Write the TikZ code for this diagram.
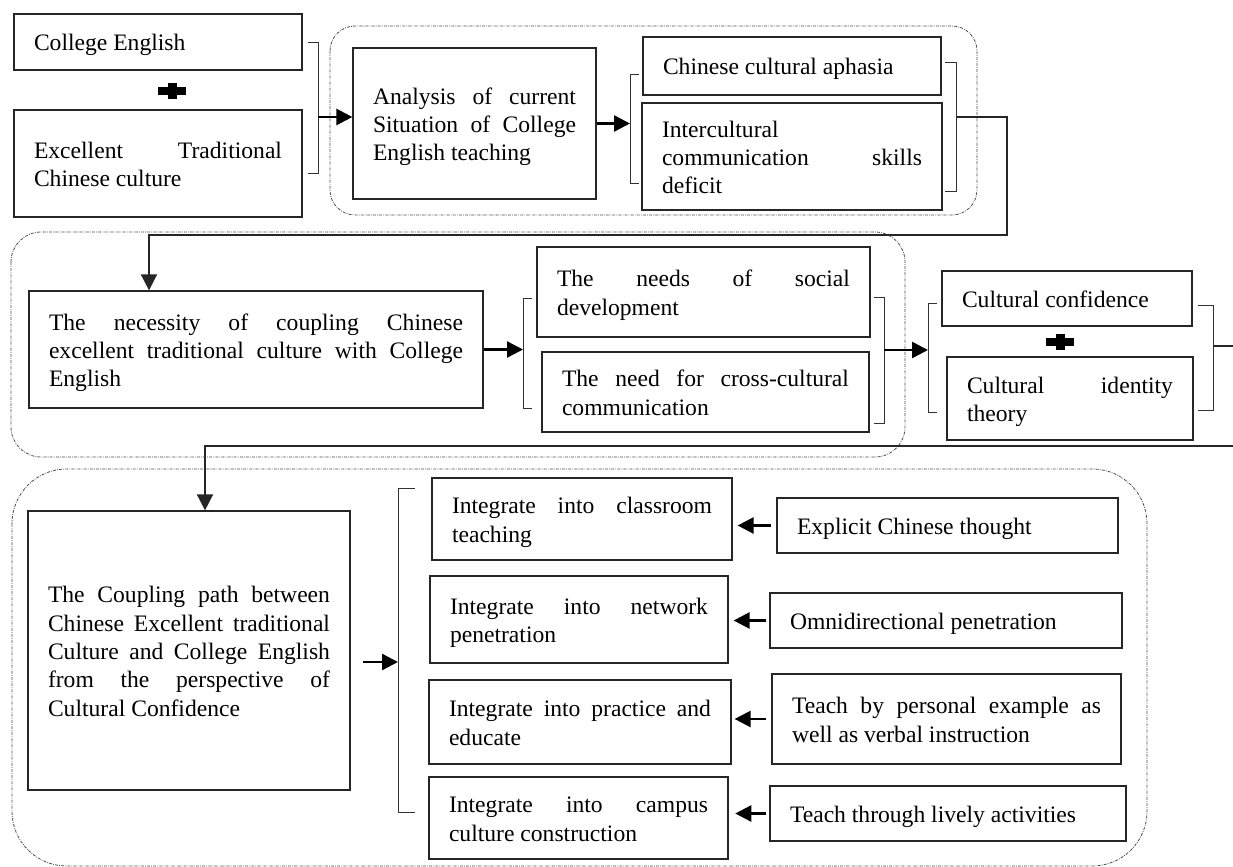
\documentclass[tikz,border=0pt]{standalone}
\usepackage{fontspec}
\setmainfont{Liberation Serif}
\usetikzlibrary{arrows.meta}
\hyphenpenalty=10000
\exhyphenpenalty=10000
\tolerance=9999
\newcommand\boxtext[2]{\parbox{#1}{\rule{0pt}{17.5pt}#2\rule[-4pt]{0pt}{0pt}}}
\begin{document}
\begin{tikzpicture}[x=0.75pt,y=-0.75pt,
  box/.style={draw=black!85, line width=0.9pt, inner sep=0pt, anchor=center,
    font=\fontsize{17.7pt}{21.2pt}\selectfont},
  grp/.style={draw=black!70, line width=0.6pt, dash pattern=on 2.2pt off 0.9pt on 0.6pt off 0.9pt},
  brk/.style={draw=black!80, line width=0.75pt},
  arr/.style={draw=black, line width=1.8pt, -{Triangle[length=12pt,width=12pt]}},
  conarr/.style={draw=black!85, line width=1.2pt, -{Triangle[length=12pt,width=12pt]}},
  plusbar/.style={fill=black, draw=none}
]
\useasboundingbox (0,0) rectangle (1233,867);

% dotted groups
\draw[grp, rounded corners=18.75pt] (330,26) rectangle (977,215);
\draw[grp, rounded corners=22.5pt] (11,232) rectangle (905,457);
\draw[grp, rounded corners=41pt] (12,469) rectangle (1147,866);

% top row
\node[box, minimum width=216pt, minimum height=42pt] (ce) at (158,42) {\boxtext{186pt}{College English}};
\node[box, minimum width=216pt, minimum height=80.25pt] (etc) at (158,163.5) {\boxtext{186pt}{Excellent Traditional\linebreak Chinese culture}};
\fill[plusbar] (158,87) rectangle (186,95);
\fill[plusbar] (167.5,83) rectangle (176.5,99);

\node[box, minimum width=182.25pt, minimum height=113.25pt] (ana) at (474.5,123.5) {\boxtext{152.25pt}{Analysis of current\linebreak Situation of College\linebreak English teaching}};
\node[box, minimum width=223.5pt, minimum height=43.5pt] (aph) at (792,66) {\boxtext{193.5pt}{Chinese cultural aphasia}};
\node[box, minimum width=225pt, minimum height=80.25pt] (ice) at (792,156.5) {\boxtext{195pt}{Intercultural\linebreak communication skills\linebreak deficit}};

% middle row
\node[box, minimum width=340.5pt, minimum height=87.75pt] (nec) at (256,349.5) {\boxtext{310.5pt}{The necessity of coupling Chinese\linebreak excellent traditional culture with College\linebreak English}};
\node[box, minimum width=249.75pt, minimum height=67.5pt] (nd1) at (703.5,292) {\boxtext{219.75pt}{The needs of social\linebreak development}};
\node[box, minimum width=245.25pt, minimum height=60pt] (nd2) at (705.5,392) {\boxtext{215.25pt}{The need for cross-cultural\linebreak communication}};
\node[box, minimum width=187.5pt, minimum height=41.25pt] (cc) at (1067,298.5) {\boxtext{157.5pt}{Cultural confidence}};
\node[box, minimum width=184.5pt, minimum height=62.25pt] (cit) at (1070,398.5) {\boxtext{154.5pt}{Cultural identity\linebreak theory}};
\fill[plusbar] (1046,338) rectangle (1074,346);
\fill[plusbar] (1055.5,334) rectangle (1064.5,350);

% bottom group
\node[box, minimum width=241.5pt, minimum height=209.25pt] (cp) at (189,650.5) {\boxtext{211.5pt}{The Coupling path between\linebreak Chinese Excellent traditional\linebreak Culture and College English\linebreak from the perspective of\linebreak Cultural Confidence}};
\node[box, minimum width=225pt, minimum height=61.5pt] (i1) at (582,519) {\boxtext{195pt}{Integrate into classroom\linebreak teaching}};
\node[box, minimum width=223.5pt, minimum height=65.25pt] (i2) at (579,619.5) {\boxtext{193.5pt}{Integrate into network\linebreak penetration}};
\node[box, minimum width=226.5pt, minimum height=63pt] (i3) at (580,722) {\boxtext{196.5pt}{Integrate into practice and\linebreak educate}};
\node[box, minimum width=224.25pt, minimum height=61.5pt] (i4) at (578.5,818) {\boxtext{194.25pt}{Integrate into campus\linebreak culture construction}};
\node[box, minimum width=255.75pt, minimum height=41.25pt] (e1) at (947.5,525.5) {\boxtext{225.75pt}{Explicit Chinese thought}};
\node[box, minimum width=264pt, minimum height=41.25pt] (e2) at (946,620.5) {\boxtext{234pt}{Omnidirectional penetration}};
\node[box, minimum width=261.75pt, minimum height=67.5pt] (e3) at (946.5,719) {\boxtext{231.75pt}{Teach by personal example as\linebreak well as verbal instruction}};
\node[box, minimum width=267pt, minimum height=41.25pt] (e4) at (948,813.5) {\boxtext{237pt}{Teach through lively activities}};

% brackets
\draw[brk] (308,43) -- (318,43) -- (318,174) -- (308,174);
\coordinate (b1) at (318,117);
\draw[brk] (639,75) -- (630,75) -- (630,183) -- (639,183);
\coordinate (b2) at (630,123);
\draw[brk] (945,63) -- (956,63) -- (956,191) -- (945,191);
\coordinate (b3) at (956,117);
\draw[brk] (532,298) -- (523,298) -- (523,408) -- (532,408);
\coordinate (b4) at (523,348);
\draw[brk] (874,297) -- (884,297) -- (884,423) -- (874,423);
\coordinate (b5) at (884,350);
\draw[brk] (937,303) -- (928,303) -- (928,412) -- (937,412);
\coordinate (b6) at (928,350);
\draw[brk] (1198,305) -- (1213,305) -- (1213,410) -- (1198,410);
\coordinate (b7) at (1213,346);
\draw[brk] (415,488) -- (398,488) -- (398,812) -- (415,812);
\coordinate (b8) at (398,662);

% connectors
\draw[arr] (b1) -- (b1 -| ana.west);
\draw[arr] (ana.east) -- (ana.east -| b2);
\coordinate (k1) at (1007,235);
\coordinate (k2) at (149,235);
\draw[conarr] (b3) -| (k1) -- (k2) -- (k2 |- nec.north);
\draw[arr] (nec.east) -- (nec.east -| b4);
\draw[arr] (b5) -- (b6);
\coordinate (k3) at (1240,446);
\coordinate (k4) at (205,446);
\draw[conarr] (b7) -| (k3) -- (k4) -- (k4 |- cp.north);
\draw[arr, shorten <=9pt] (cp.east |- b8) -- (b8);
\draw[arr, shorten <=3.75pt, shorten >=3.75pt] (e1.west) -- (e1.west -| i1.east);
\draw[arr, shorten <=2.25pt, shorten >=3.75pt] (e2.west) -- (e2.west -| i2.east);
\draw[arr, shorten <=3.75pt, shorten >=2.25pt] (e3.west) -- (e3.west -| i3.east);
\draw[arr, shorten <=2.25pt, shorten >=5pt] (e4.west) -- (e4.west -| i4.east);
\end{tikzpicture}
\end{document}
